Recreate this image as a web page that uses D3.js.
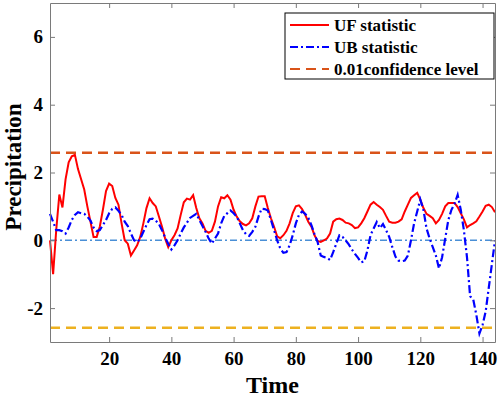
<!DOCTYPE html>
<html>
    <head>
        <meta charset="utf-8">
        <script src="https://cdn.jsdelivr.net/npm/d3@7"></script>
        <style>
            body { margin: 0; background: white; }
            text { font-family: "Liberation Serif", "Times New Roman", serif; font-weight: bold; }
        </style>
        <script>
            // time steps 1..144
            var time = d3.range(1, 145);

            var ufValues = [0, -1.0, 0.3, 1.35, 0.97, 1.8, 2.3, 2.48, 2.52, 2.1,
                            1.8, 1.5, 1.0, 0.55, 0.1, 0.1, 0.4, 0.9, 1.45, 1.67,
                            1.6, 1.25, 1.05, 0.5, 0.0, -0.1, -0.45, -0.3, -0.15, 0.1,
                            0.5, 0.95, 1.24, 1.1, 1.0, 0.7, 0.4, 0.05, -0.2, 0.0,
                            0.15, 0.35, 0.75, 1.12, 1.23, 1.2, 1.33, 0.95, 0.65, 0.5,
                            0.28, 0.22, 0.28, 0.55, 1.0, 1.27, 1.24, 1.33, 1.2, 0.9,
                            0.7, 0.56, 0.48, 0.44, 0.5, 0.65, 1.0, 1.29, 1.3, 1.3,
                            0.95, 0.65, 0.4, 0.12, 0.06, 0.15, 0.28, 0.5, 0.8, 1.0,
                            1.03, 0.92, 0.75, 0.55, 0.4, 0.15, -0.02, -0.05, 0.0, 0.05,
                            0.2, 0.55, 0.62, 0.64, 0.6, 0.52, 0.5, 0.45, 0.36, 0.38,
                            0.5, 0.65, 0.85, 1.05, 1.13, 1.05, 0.98, 0.9, 0.72, 0.55,
                            0.52, 0.52, 0.55, 0.62, 0.85, 1.05, 1.25, 1.33, 1.4, 1.2,
                            0.95, 0.78, 0.72, 0.65, 0.5, 0.6, 0.78, 1.0, 1.1, 1.1,
                            1.1, 0.98, 0.8, 0.62, 0.38, 0.45, 0.5, 0.56, 0.7, 0.85,
                            1.02, 1.05, 0.98, 0.83];

            var ubValues = [0.78, 0.55, 0.3, 0.3, 0.27, 0.2, 0.38, 0.6, 0.75, 0.83,
                            0.8, 0.78, 0.7, 0.58, 0.38, 0.27, 0.3, 0.45, 0.6, 0.8,
                            0.93, 0.97, 0.87, 0.75, 0.55, 0.42, 0.2, 0.0, -0.05, 0.05,
                            0.25, 0.45, 0.62, 0.64, 0.58, 0.48, 0.3, 0.08, -0.1, -0.27,
                            -0.15, 0.0, 0.2, 0.38, 0.52, 0.66, 0.72, 0.78, 0.6, 0.42,
                            0.25, 0.05, -0.1, 0.05, 0.2, 0.5, 0.72, 0.8, 0.88, 0.8,
                            0.7, 0.5, 0.3, 0.18, 0.13, 0.25, 0.4, 0.7, 0.93, 0.92,
                            0.88, 0.6, 0.3, 0.0, -0.24, -0.37, -0.35, -0.15, 0.15, 0.5,
                            0.75, 0.85, 0.78, 0.66, 0.45, 0.18, -0.05, -0.45, -0.49, -0.52,
                            -0.58, -0.35, -0.1, 0.15, 0.1, 0.0, -0.12, -0.27, -0.4, -0.52,
                            -0.65, -0.62, -0.3, 0.15, 0.35, 0.54, 0.36, 0.48, 0.3, 0.1,
                            -0.2, -0.48, -0.6, -0.62, -0.6, -0.45, 0.0, 0.5, 0.85, 1.2,
                            0.9, 0.35, 0.05, -0.2, -0.45, -0.83, -0.5, 0.05, 0.6, 0.9,
                            1.08, 1.34, 0.9, 0.3, -0.5, -1.65, -1.74, -2.2, -2.75, -2.5,
                            -2.1, -1.4, -0.7, 0.0];

            var confLevel = 2.58;
            var xTicks = [20, 40, 60, 80, 100, 120, 140];
            var yTicks = [-2, 0, 2, 4, 6];
            var legendLabels = ["UF statistic", "UB statistic", "0.01confidence level"];

            function makeSVG() {

                var svg = d3.select("#fig");

                const margin = { left: 50, top: 3, right: 3, bottom: 55 };
                const width = +svg.attr("width");
                const height = +svg.attr("height");
                const axisColor = "#7a7a7a";

                var xSc = d3.scaleLinear().domain([1, 144])
                                          .range([margin.left, width - margin.right]);
                var ySc = d3.scaleLinear().domain([-3, 7])
                                          .range([height - margin.bottom, margin.top]);

                // reference lines (drawn first, under the curves)

                var refs = [
                    { v: 0, color: "#4a8fd6", dash: "7,3,2,3", w: 1.5 },
                    { v: confLevel, color: "#D95319", dash: "10,6", w: 2.5 },
                    { v: -confLevel, color: "#EDB120", dash: "10,6", w: 2.5 }
                ];

                svg.selectAll("line.ref")
                   .data(refs)
                   .enter()
                   .append("line")
                   .attr("class", "ref")
                   .attr("x1", xSc(1))
                   .attr("x2", xSc(144))
                   .attr("y1", d => ySc(d.v))
                   .attr("y2", d => ySc(d.v))
                   .attr("stroke", d => d.color)
                   .attr("stroke-width", d => d.w)
                   .attr("stroke-dasharray", d => d.dash);

                // UF / UB curves

                var lnMkr = d3.line()
                              .x((d, i) => xSc(time[i]))
                              .y(d => ySc(d));

                svg.append("path")
                   .attr("d", lnMkr(ufValues))
                   .attr("fill", "none")
                   .attr("stroke", "#ff0000")
                   .attr("stroke-width", 2);

                svg.append("path")
                   .attr("d", lnMkr(ubValues))
                   .attr("fill", "none")
                   .attr("stroke", "#0000ff")
                   .attr("stroke-width", 2.2)
                   .attr("stroke-dasharray", "8,3,2,3");

                // axes, ticks pointing inwards on all four sides

                var fmt = d => String(d);   // plain hyphen for negatives, like the original

                var xb = svg.append("g")
                            .attr("transform", `translate(0,${height - margin.bottom})`)
                            .call(d3.axisBottom(xSc).tickValues(xTicks).tickSizeInner(-5)
                                    .tickSizeOuter(0).tickPadding(10).tickFormat(fmt));
                var xt = svg.append("g")
                            .attr("transform", `translate(0,${margin.top})`)
                            .call(d3.axisTop(xSc).tickValues(xTicks).tickSizeInner(-5)
                                    .tickSizeOuter(0).tickFormat(""));
                var yl = svg.append("g")
                            .attr("transform", `translate(${margin.left},0)`)
                            .call(d3.axisLeft(ySc).tickValues(yTicks).tickSizeInner(-5)
                                    .tickSizeOuter(0).tickPadding(7).tickFormat(fmt));
                var yr = svg.append("g")
                            .attr("transform", `translate(${width - margin.right},0)`)
                            .call(d3.axisRight(ySc).tickValues(yTicks).tickSizeInner(-5)
                                    .tickSizeOuter(0).tickFormat(""));

                [xb, xt, yl, yr].forEach(g => {
                    g.selectAll("path, line").attr("stroke", axisColor);
                    g.selectAll("text")
                     .attr("fill", "#000")
                     .style("font-size", "19px")
                     .style("font-family", "'Liberation Serif', 'Times New Roman', serif")
                     .style("font-weight", "bold");
                });

                // axis titles

                svg.append("text")
                   .attr("x", (margin.left + width - margin.right) / 2)
                   .attr("y", 393)
                   .attr("text-anchor", "middle")
                   .style("font-size", "24px")
                   .text("Time");

                svg.append("text")
                   .attr("transform", "translate(21,167) rotate(-90)")
                   .attr("text-anchor", "middle")
                   .style("font-size", "23px")
                   .text("Precipitation");

                // legend

                var lg = svg.append("g").attr("transform", "translate(285,13)");

                lg.append("rect")
                  .attr("width", 209)
                  .attr("height", 66)
                  .attr("fill", "white")
                  .attr("stroke", "#000")
                  .attr("stroke-width", 1);

                var legendStyle = [
                    { color: "#ff0000", dash: null },
                    { color: "#0000ff", dash: "8,3,2,3" },
                    { color: "#D95319", dash: "10,6" }
                ];

                legendLabels.forEach((lab, i) => {
                    var yy = 12 + i * 22;
                    lg.append("line")
                      .attr("x1", 5).attr("x2", 44)
                      .attr("y1", yy).attr("y2", yy)
                      .attr("stroke", legendStyle[i].color)
                      .attr("stroke-width", 2)
                      .attr("stroke-dasharray", legendStyle[i].dash);
                    lg.append("text")
                      .attr("x", 49)
                      .attr("y", yy + 6)
                      .style("font-size", "17px")
                      .text(lab);
                });
            }
        </script>
    </head>
    <body onload="makeSVG()">

        <svg id="fig" width="498" height="397"></svg>

    </body>
</html>
